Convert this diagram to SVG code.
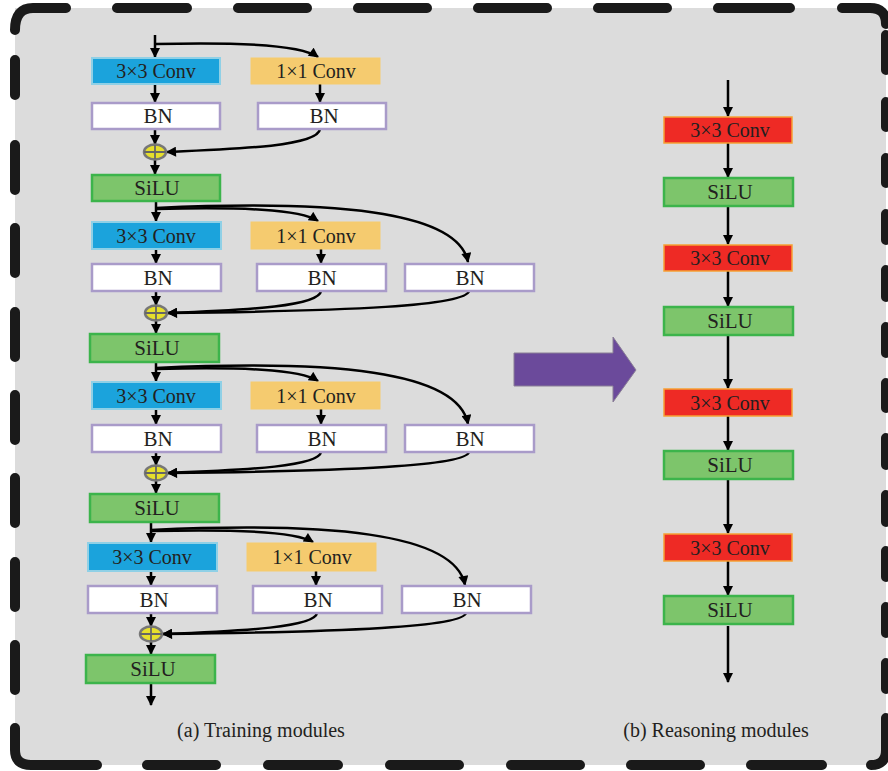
<svg xmlns="http://www.w3.org/2000/svg" width="888" height="771" viewBox="0 0 888 771">
<defs>
<marker id="ah" viewBox="0 0 10 10" markerWidth="11" markerHeight="10" refX="9" refY="5" orient="auto" markerUnits="userSpaceOnUse">
<path d="M0,0 L10,5 L0,10 z" fill="#000"/>
</marker>
</defs>
<style>
.bd{stroke:#1a1a1a;stroke-width:10;stroke-linecap:round;fill:none}
.c3{fill:#1ba3dc;stroke:#8fd0e6;stroke-width:2}
.c1{fill:#f5cb6f;stroke:#f5cb6f;stroke-width:1}
.bn{fill:#fff;stroke:#a99bc9;stroke-width:2.5}
.si{fill:#7dc56b;stroke:#3cb44b;stroke-width:2.5}
.rc{fill:#ee2a25;stroke:#f6a033;stroke-width:1.5}
text{font-family:'Liberation Serif','Times New Roman','DejaVu Serif',serif;fill:#231f20;text-anchor:middle}
.t{font-size:21px}
.tc{font-size:20px}
.cap{font-size:20px}
.ln{stroke:#000;stroke-width:2.5;fill:none;marker-end:url(#ah)}
.pl{fill:#e6df2c;stroke:#777;stroke-width:2.5}
.px{stroke:#666;stroke-width:1.8}
</style>
<rect x="0" y="0" width="888" height="771" fill="#fff"/>
<rect x="15" y="8" width="871" height="757" fill="#dcdcdc"/>
<g id="border">
<path class="bd" d="M15,30 Q15,8 33,8 L66,8"/>
<path class="bd" d="M117,8H187M238,8H307M358,8H427M478,8H547M598,8H667M718,8H790"/>
<path class="bd" d="M842,8 L870,8 Q886,8 886,24"/>
<path class="bd" d="M15,60V95M15,145V190M15,228V273M15,312V357M15,395V440M15,478V523M15,562V607M15,645V690"/>
<path class="bd" d="M15,728 L15,750 Q15,765 31,765 L97,765"/>
<path class="bd" d="M147,765H216M268,765H338M390,765H459M511,765H580M631,765H700M751,765H822"/>
<path class="bd" d="M871,765 Q886,765 886,750 L886,718"/>
<path class="bd" d="M886,35V70M886,102V127M886,158V183M886,214V240M886,270V297M886,327V353M886,383V408M886,438V465M886,495V522M886,551V577M886,607V633M886,663V689"/>
</g>
<g id="connectors">
<line class="ln" x1="155" y1="35" x2="155" y2="57"/>
<path class="ln" d="M155,44 C235,42 300,44 318,57"/>
<line class="ln" x1="155" y1="84" x2="155" y2="102"/>
<line class="ln" x1="320" y1="84" x2="320" y2="102"/>
<line class="ln" x1="155" y1="129" x2="155" y2="144"/>
<path class="ln" d="M320,129 C318,146 240,149 167,152"/>
<line class="ln" x1="155" y1="160" x2="155" y2="174"/>

<line class="ln" x1="156" y1="202" x2="156" y2="221"/>
<path class="ln" d="M156,209 C240,207 300,209 318,221"/>
<path class="ln" d="M156,208 C330,200 458,210 468,262"/>
<line class="ln" x1="156" y1="249" x2="156" y2="263"/>
<line class="ln" x1="321" y1="249" x2="321" y2="263"/>
<line class="ln" x1="156" y1="291" x2="156" y2="305"/>
<path class="ln" d="M321,291 C319,306 250,310 168,313"/>
<path class="ln" d="M469,291 C466,306 350,311 168,313"/>
<line class="ln" x1="156" y1="321" x2="156" y2="333"/>

<line class="ln" x1="156" y1="362" x2="156" y2="381"/>
<path class="ln" d="M156,369 C240,367 300,369 318,381"/>
<path class="ln" d="M156,368 C330,360 458,370 468,424"/>
<line class="ln" x1="156" y1="409" x2="156" y2="424"/>
<line class="ln" x1="321" y1="409" x2="321" y2="424"/>
<line class="ln" x1="156" y1="452" x2="156" y2="465"/>
<path class="ln" d="M321,452 C319,466 250,470 168,473"/>
<path class="ln" d="M469,452 C466,466 350,471 168,473"/>
<line class="ln" x1="156" y1="481" x2="156" y2="493"/>

<line class="ln" x1="151" y1="522" x2="151" y2="542"/>
<path class="ln" d="M151,531 C235,529 295,531 313,542"/>
<path class="ln" d="M151,530 C325,522 455,532 465,585"/>
<line class="ln" x1="151" y1="571" x2="151" y2="585"/>
<line class="ln" x1="316" y1="571" x2="316" y2="585"/>
<line class="ln" x1="151" y1="613" x2="151" y2="626"/>
<path class="ln" d="M317,613 C315,627 245,631 163,634"/>
<path class="ln" d="M466,613 C463,627 345,632 163,634"/>
<line class="ln" x1="151" y1="642" x2="151" y2="654"/>
<line class="ln" x1="151" y1="683" x2="151" y2="705"/>

<line class="ln" x1="728" y1="80" x2="728" y2="116"/>
<line class="ln" x1="728" y1="143" x2="728" y2="177"/>
<line class="ln" x1="728" y1="206" x2="728" y2="244"/>
<line class="ln" x1="728" y1="271" x2="728" y2="306"/>
<line class="ln" x1="728" y1="335" x2="728" y2="388"/>
<line class="ln" x1="728" y1="416" x2="728" y2="450"/>
<line class="ln" x1="728" y1="479" x2="728" y2="533"/>
<line class="ln" x1="728" y1="561" x2="728" y2="595"/>
<line class="ln" x1="728" y1="626" x2="728" y2="682"/>
</g>

<g id="b1-conv3"><rect class="c3" x="92" y="58" width="128" height="26"/><text class="tc" x="156" y="78">3×3 Conv</text></g>
<g id="b1-conv1"><rect class="c1" x="251" y="58" width="129" height="26"/><text class="tc" x="316" y="78">1×1 Conv</text></g>
<g id="b1-bn1"><rect class="bn" x="92" y="103" width="128" height="26"/><text class="t" x="158" y="123">BN</text></g>
<g id="b1-bn2"><rect class="bn" x="258" y="103" width="128" height="26"/><text class="t" x="324" y="123">BN</text></g>
<g id="b1-add"><ellipse class="pl" cx="155" cy="152" rx="11" ry="7.5"/><path class="px" d="M144,152H166M155,145V159"/></g>
<g id="b1-silu"><rect class="si" x="92" y="175" width="128" height="26"/><text class="t" x="157" y="195">SiLU</text></g>

<g id="b2-conv3"><rect class="c3" x="92" y="222" width="129" height="27"/><text class="tc" x="156" y="243">3×3 Conv</text></g>
<g id="b2-conv1"><rect class="c1" x="251" y="222" width="129" height="27"/><text class="tc" x="316" y="243">1×1 Conv</text></g>
<g id="b2-bn1"><rect class="bn" x="92" y="264" width="129" height="27"/><text class="t" x="158" y="285">BN</text></g>
<g id="b2-bn2"><rect class="bn" x="257" y="264" width="129" height="27"/><text class="t" x="322" y="285">BN</text></g>
<g id="b2-bn3"><rect class="bn" x="405" y="264" width="129" height="27"/><text class="t" x="470" y="285">BN</text></g>
<g id="b2-add"><ellipse class="pl" cx="156" cy="313" rx="11" ry="7.5"/><path class="px" d="M145,313H167M156,306V320"/></g>
<g id="b2-silu"><rect class="si" x="90" y="334" width="129" height="28"/><text class="t" x="157" y="355">SiLU</text></g>

<g id="b3-conv3"><rect class="c3" x="92" y="382" width="129" height="27"/><text class="tc" x="156" y="403">3×3 Conv</text></g>
<g id="b3-conv1"><rect class="c1" x="251" y="382" width="129" height="27"/><text class="tc" x="316" y="403">1×1 Conv</text></g>
<g id="b3-bn1"><rect class="bn" x="92" y="425" width="129" height="27"/><text class="t" x="158" y="446">BN</text></g>
<g id="b3-bn2"><rect class="bn" x="257" y="425" width="129" height="27"/><text class="t" x="322" y="446">BN</text></g>
<g id="b3-bn3"><rect class="bn" x="405" y="425" width="129" height="27"/><text class="t" x="470" y="446">BN</text></g>
<g id="b3-add"><ellipse class="pl" cx="156" cy="473" rx="11" ry="7.5"/><path class="px" d="M145,473H167M156,466V480"/></g>
<g id="b3-silu"><rect class="si" x="90" y="494" width="129" height="28"/><text class="t" x="157" y="515">SiLU</text></g>

<g id="b4-conv3"><rect class="c3" x="88" y="543" width="129" height="28"/><text class="tc" x="152" y="564">3×3 Conv</text></g>
<g id="b4-conv1"><rect class="c1" x="247" y="543" width="129" height="28"/><text class="tc" x="312" y="564">1×1 Conv</text></g>
<g id="b4-bn1"><rect class="bn" x="88" y="586" width="129" height="27"/><text class="t" x="154" y="607">BN</text></g>
<g id="b4-bn2"><rect class="bn" x="253" y="586" width="129" height="27"/><text class="t" x="318" y="607">BN</text></g>
<g id="b4-bn3"><rect class="bn" x="402" y="586" width="129" height="27"/><text class="t" x="467" y="607">BN</text></g>
<g id="b4-add"><ellipse class="pl" cx="151" cy="634" rx="11" ry="7.5"/><path class="px" d="M140,634H162M151,627V641"/></g>
<g id="b4-silu"><rect class="si" x="86" y="655" width="129" height="28"/><text class="t" x="153" y="676">SiLU</text></g>

<g id="r-conv1"><rect class="rc" x="664" y="117" width="128" height="26"/><text class="tc" x="730" y="137">3×3 Conv</text></g>
<g id="r-silu1"><rect class="si" x="664" y="178" width="129" height="28"/><text class="t" x="730" y="199">SiLU</text></g>
<g id="r-conv2"><rect class="rc" x="664" y="245" width="128" height="26"/><text class="tc" x="730" y="265">3×3 Conv</text></g>
<g id="r-silu2"><rect class="si" x="664" y="307" width="129" height="28"/><text class="t" x="730" y="328">SiLU</text></g>
<g id="r-conv3"><rect class="rc" x="664" y="389" width="128" height="27"/><text class="tc" x="730" y="410">3×3 Conv</text></g>
<g id="r-silu3"><rect class="si" x="664" y="451" width="129" height="28"/><text class="t" x="730" y="472">SiLU</text></g>
<g id="r-conv4"><rect class="rc" x="664" y="534" width="128" height="27"/><text class="tc" x="730" y="555">3×3 Conv</text></g>
<g id="r-silu4"><rect class="si" x="664" y="596" width="129" height="28"/><text class="t" x="730" y="617">SiLU</text></g>

<g id="transform-arrow"><path d="M514,353 H613 V337 L636,370 L613,402 V386 H514 Z" fill="#6b4a9b" stroke="#8a7f96" stroke-width="1"/></g>

<text class="cap" x="261" y="737">(a) Training modules</text>
<text class="cap" x="716" y="737">(b) Reasoning modules</text>
</svg>
